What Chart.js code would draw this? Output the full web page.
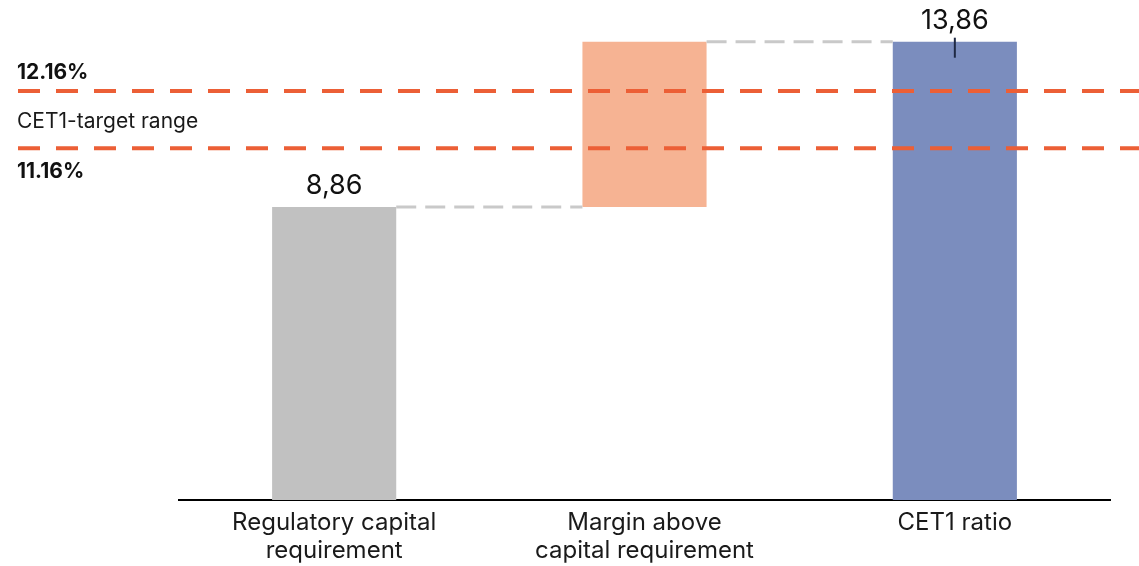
<!DOCTYPE html>
<html>
<head>
<meta charset="utf-8">
<script src="https://cdn.jsdelivr.net/npm/chart.js@4"></script>
<style>
html,body{margin:0;padding:0;background:#fff;}
#wrap{width:1139px;height:566px;position:relative;}
</style>
</head>
<body>
<div id="wrap"><canvas id="c" width="1139" height="566"></canvas></div>
<script>
const categories = [["Regulatory capital","requirement"],["Margin above","capital requirement"],["CET1 ratio"]];
const barBase = [0, 8.86, 0];
const barTop = [8.86, 13.86, 13.86];
const valueLabels = ["8,86", "", "13,86"];
const barColors = ["#c1c1c1", "#f6b393", "#7b8dbe"];
const targetLineLevels = [12.37, 10.64];
const targetLabels = ["12.16%", "11.16%"];
const rangeLabel = "CET1-target range";

const FONT = "Inter, 'Noto Sans', sans-serif";

const overlay = {
  id: 'overlay',
  afterDatasetsDraw(chart) {
    const ctx = chart.ctx;
    const y = chart.scales.y;
    const meta = chart.getDatasetMeta(0);
    ctx.save();
    // connectors
    ctx.strokeStyle = '#c9c9c9';
    ctx.lineWidth = 3;
    ctx.setLineDash([20, 9]);
    for (let i = 0; i < meta.data.length - 1; i++) {
      const a = meta.data[i], b = meta.data[i + 1];
      const level = y.getPixelForValue(barTop[i]);
      ctx.beginPath();
      ctx.moveTo(a.x + a.width / 2, level);
      ctx.lineTo(b.x - b.width / 2, level);
      ctx.stroke();
    }
    // target lines
    ctx.strokeStyle = '#ec5f36';
    ctx.lineWidth = 4;
    ctx.setLineDash([22, 16]);
    const ys = targetLineLevels.map(v => y.getPixelForValue(v));
    ys.forEach(py => {
      ctx.beginPath();
      ctx.moveTo(18, py);
      ctx.lineTo(chart.width, py);
      ctx.stroke();
    });
    ctx.setLineDash([]);
    // left labels
    ctx.fillStyle = '#111';
    ctx.textBaseline = 'middle';
    ctx.textAlign = 'left';
    ctx.font = "bold 21px " + FONT;
    ctx.fillText(targetLabels[0], 17, ys[0] - 18);
    ctx.fillText(targetLabels[1], 17, ys[1] + 24);
    ctx.font = "21px " + FONT;
    ctx.fillStyle = '#1a1a1a';
    ctx.fillText(rangeLabel, 17, (ys[0] + ys[1]) / 2 + 2);
    // value labels
    ctx.font = "27px " + FONT;
    ctx.textAlign = 'center';
    ctx.fillStyle = '#111';
    meta.data.forEach((bar, i) => {
      if (!valueLabels[i]) return;
      const py = y.getPixelForValue(barTop[i]);
      ctx.fillText(valueLabels[i], bar.x, py - 21);
    });
    // marker on last bar
    const last = meta.data[meta.data.length - 1];
    const ly = y.getPixelForValue(barTop[barTop.length - 1]);
    ctx.strokeStyle = '#1f2944';
    ctx.lineWidth = 2;
    ctx.beginPath();
    ctx.moveTo(last.x, ly - 4);
    ctx.lineTo(last.x, ly + 16);
    ctx.stroke();
    ctx.restore();
  }
};

new Chart(document.getElementById('c'), {
  type: 'bar',
  data: {
    labels: categories,
    datasets: [{
      data: barBase.map((b, i) => [b, barTop[i]]),
      backgroundColor: barColors,
      borderWidth: 0,
      barPercentage: 0.8,
      categoryPercentage: 0.5
    }]
  },
  options: {
    responsive: false,
    animation: false,
    devicePixelRatio: 1,
    layout: { padding: { top: 4, left: 179, right: 29, bottom: 0 } },
    plugins: { legend: { display: false }, tooltip: { enabled: false } },
    scales: {
      x: {
        grid: { display: false, drawTicks: false },
        border: { display: true, color: '#000', width: 2 },
        ticks: { color: '#1a1a1a', font: { family: FONT, size: 24, lineHeight: 1.17 }, padding: 9, maxRotation: 0 },
        afterFit(scale) { scale.height = 66; }
      },
      y: {
        display: false,
        min: 0,
        max: 15
      }
    }
  },
  plugins: [overlay]
});
</script>
</body>
</html>
